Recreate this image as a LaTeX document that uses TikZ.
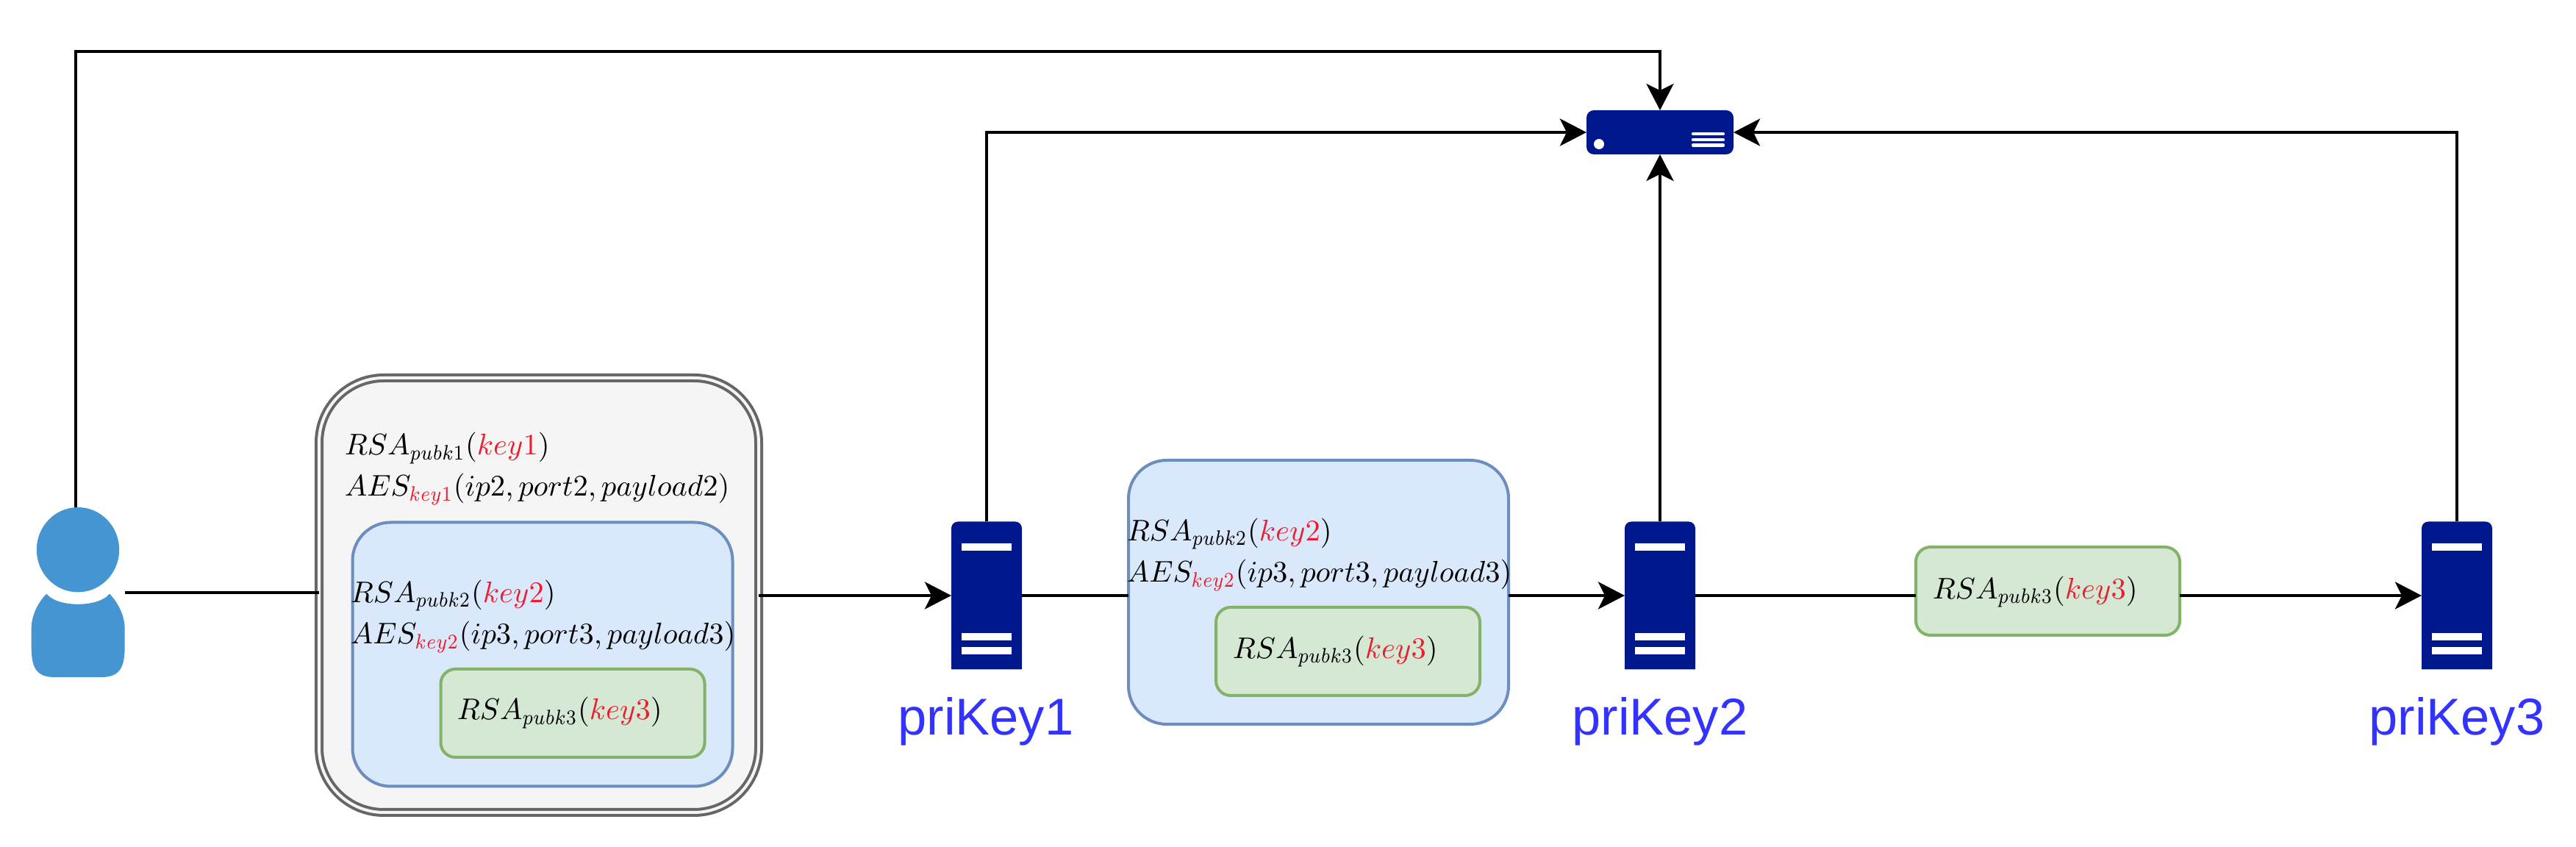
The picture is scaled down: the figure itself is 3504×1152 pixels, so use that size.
\documentclass[tikz,border=0pt]{standalone}
\usepackage{amsmath}
\usepackage[no-math]{fontspec}
\usepackage{tikz}
\usetikzlibrary{arrows.meta}
\newfontfamily\labelfont{Liberation Sans}
\definecolor{srvblue}{HTML}{00188D}
\definecolor{userblue}{HTML}{4495D1}
\definecolor{keyred}{HTML}{ED1C2E}
\definecolor{labelblue}{HTML}{3333FF}
\newcommand{\keyr}[1]{\textcolor{keyred}{#1}}
\newcommand{\mtxt}[1]{\scalebox{1.015}{$#1$}}
\newcommand{\subx}[1]{\scalebox{.87}[1]{$\scriptstyle #1$}}

\begin{document}
\begin{tikzpicture}[
        x=0.25pt, y=-0.25pt,
        box/.style = {
            draw,
            rounded corners = #1,
            line width = 1pt,
            inner sep = 0pt,
            outer sep = 0pt
        },
        box/.default = 13pt,
        bluebox/.style = {
            box,
            draw = {rgb,255:red,108;green,142;blue,191},
            fill = {rgb,255:red,218;green,232;blue,252},
            minimum width = 129.25pt,
            minimum height = 89.75pt
        },
        greenbox/.style = {
            box = 5pt,
            draw = {rgb,255:red,130;green,179;blue,102},
            fill = {rgb,255:red,213;green,232;blue,212},
            minimum width = 89.75pt,
            minimum height = 30pt
        },
        msg/.style = {
            anchor = base west,
            inner sep = 0pt,
            font = \fontsize{10}{12}\selectfont
        },
        srv/.style = {
            inner sep = 0pt,
            outer sep = 0pt,
            minimum width = 24pt,
            minimum height = 50.25pt
        },
        srvlabel/.style = {
            anchor = base,
            inner sep = 0pt,
            text = labelblue,
            font = \labelfont\fontsize{17.6}{20}\selectfont
        },
        conn/.style = {
            line width = 1pt
        },
        arr/.style = {
            conn,
            -{Stealth[length=9pt, width=9.25pt, inset=2.25pt]}
        }
        ]
        \useasboundingbox (0,0) rectangle (3504,1152);
%
% sender
        \node[inner sep=0pt, outer sep=0pt, minimum width=32pt, minimum height=57.9pt] (user) at (106,805.75) {};
        \fill[userblue] (106,747.7) ellipse [x radius=56.2, y radius=57.7];
        \fill[userblue] (63.3,807.7) .. controls (78,826.5) and (134,826.5) .. (149,807.7)
                        .. controls (161,820) and (169.7,838) .. (169.7,855) -- (169.7,878)
                        .. controls (169.7,905) and (165,921) .. (138,921) -- (74,921)
                        .. controls (47,921) and (42.7,905) .. (42.7,878) -- (42.7,855)
                        .. controls (42.7,838) and (51,820) .. (63.3,807.7) -- cycle;
%
% onion, first hop
        \node[box=22pt, draw={rgb,255:red,102;green,102;blue,102}, fill={rgb,255:red,245;green,245;blue,245},
              line width=1pt, double={rgb,255:red,245;green,245;blue,245}, double distance=1pt,
              minimum width=149.5pt, minimum height=147.75pt] (outer) at (733,809.5) {};
        \node[bluebox] (blue1) at (738,890) {};
        \node[greenbox] (green1) at (779,970) {};
        \node[msg] (rsa1) at (468,619) {\mtxt{RSA_{\subx{pubk1}}(\keyr{key1})}};
        \node[msg] (aes1) at (468,675) {\mtxt{AES_{\subx{\keyr{key1}}}(ip2,port2,payload2)}};
        \node[msg] (rsa2) at (476,819.5) {\mtxt{RSA_{\subx{pubk2}}(\keyr{key2})}};
        \node[msg] (aes2) at (476,876) {\mtxt{AES_{\subx{\keyr{key2}}}(ip3,port3,payload3)}};
        \node[msg] (rsa3) at (621,979) {\mtxt{RSA_{\subx{pubk3}}(\keyr{key3})}};
%
% onion, second hop
        \node[bluebox] (blue2) at (1793.5,805.5) {};
        \node[greenbox] (green2) at (1833.5,886) {};
        \node[msg] (rsa4) at (1532,735.5) {\mtxt{RSA_{\subx{pubk2}}(\keyr{key2})}};
        \node[msg] (aes4) at (1532,792) {\mtxt{AES_{\subx{\keyr{key2}}}(ip3,port3,payload3)}};
        \node[msg] (rsa5) at (1676,895.5) {\mtxt{RSA_{\subx{pubk3}}(\keyr{key3})}};
%
% onion, third hop
        \node[greenbox] (green3) at (2785.5,804) {};
        \node[msg] (rsa6) at (2628,814.5) {\mtxt{RSA_{\subx{pubk3}}(\keyr{key3})}};
%
% relays
        \node[srv] (pri1) at (1342,810) {};
        \node[srv] (pri2) at (2258,810) {};
        \node[srv] (pri3) at (3342,810) {};
        \foreach \s in {pri1,pri2,pri3} {
            \fill[srvblue] (\s.south west) [rounded corners=2.25pt] -- (\s.north west) -- (\s.north east) [sharp corners] -- (\s.south east) -- cycle;
            \fill[white] ([xshift=-8.5pt, yshift=-7.5pt]\s.north) rectangle ([xshift=8.5pt, yshift=-10pt]\s.north);
            \fill[white] ([xshift=-8.5pt, yshift=-38pt]\s.north) rectangle ([xshift=8.5pt, yshift=-40.5pt]\s.north);
            \fill[white] ([xshift=-8.5pt, yshift=-42.75pt]\s.north) rectangle ([xshift=8.5pt, yshift=-45.25pt]\s.north);
        }
        \node[srvlabel] (lab1) at (1341,1000) {priKey1};
        \node[srvlabel] (lab2) at (2258,1000) {priKey2};
        \node[srvlabel] (lab3) at (3342,1000) {priKey3};
%
% receiver
        \node[srv, minimum width=50pt, minimum height=15pt] (gate) at (2258,180) {};
        \fill[srvblue, rounded corners=2.5pt] (gate.south west) rectangle (gate.north east);
        \fill[white] (2175,196) circle [radius=7];
        \foreach \y in {182,190,197.5} {
            \draw[white, line width=1.05pt, line cap=round] (2303,\y) -- (2344,\y);
        }
%
% connectors
        \coordinate (corner) at (2258,70);
        \draw[arr] ([xshift=-0.75pt]user.north) |- (corner) -- (gate.north);
        \draw[arr] (pri1.north) |- (gate.west);
        \draw[arr] (pri3.north) |- (gate.east);
        \draw[arr] (pri2.north) -- (gate.south);
%
        \draw[conn] (user.east) -- (user.east -| outer.west);
        \draw[arr] (pri1.west -| outer.east) -- (pri1.west);
        \draw[conn] (pri1.east) -- (pri1.east -| blue2.west);
        \draw[arr] (pri2.west -| blue2.east) -- (pri2.west);
        \draw[conn] (pri2.east) -- (pri2.east -| green3.west);
        \draw[arr] (pri3.west -| green3.east) -- (pri3.west);
    \end{tikzpicture}
\end{document}
